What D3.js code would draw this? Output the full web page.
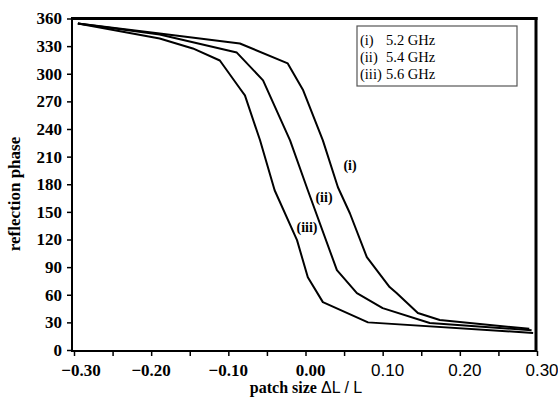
<!DOCTYPE html>
<html><head><meta charset="utf-8">
<script src="https://cdn.jsdelivr.net/npm/d3@7"></script>
<style>body{margin:0;background:#fff}svg{display:block}</style>
</head><body>
<svg id="c" width="558" height="397"></svg>
<script>
// data
const seriesI_x   = [-0.295,-0.189,-0.085,-0.023,-0.003,0.0225,0.042,0.0575,0.0795,0.109,0.118,0.1456,0.174,0.290];
const seriesI_y   = [354.6,343.7,332.9,311.2,282,227.7,176.7,148.5,100.8,68.3,61.8,40.1,32.5,23];
const seriesII_x  = [-0.295,-0.189,-0.089,-0.055,-0.020,0.003,0.0407,0.0666,0.100,0.161,0.293];
const seriesII_y  = [354.6,342.6,323,292.8,227.7,173.5,86.7,61.8,45.5,29.3,21.5];
const seriesIII_x = [-0.295,-0.189,-0.146,-0.111,-0.085,-0.0785,-0.059,-0.040,-0.011,0.003,0.0225,0.081,0.295];
const seriesIII_y = [354.6,338.3,327.5,314.4,284,276.5,228,173.5,119.3,79,52,30,18.5];
const legendNames = ["(i)","(ii)","(iii)"];
const legendFreqs = ["5.2 GHz","5.4 GHz","5.6 GHz"];
const curveLabels = ["(i)","(ii)","(iii)"];
const yTicks = [0,30,60,90,120,150,180,210,240,270,300,330,360];
const xTickLabels = [-0.30,-0.20,-0.10,0.00,0.10,0.20,0.30];
const xMinorTicks = [-0.30,-0.25,-0.20,-0.15,-0.10,-0.05,0,0.05,0.10,0.15,0.20,0.25,0.30];

const svg = d3.select("#c");
const x = d3.scaleLinear().domain([-0.3,0.3]).range([74,537]);
const y = d3.scaleLinear().domain([0,360]).range([350,18.5]);

// frame
svg.append("line").attr("x1",72).attr("x2",537.5).attr("y1",18.5).attr("y2",18.5).attr("stroke","#000").attr("stroke-width",3);
svg.append("line").attr("x1",536).attr("x2",536).attr("y1",17).attr("y2",351).attr("stroke","#000").attr("stroke-width",3);
svg.append("line").attr("x1",72).attr("x2",72).attr("y1",17).attr("y2",352).attr("stroke","#000").attr("stroke-width",2);
svg.append("line").attr("x1",71).attr("x2",537).attr("y1",351).attr("y2",351).attr("stroke","#000").attr("stroke-width",2);

// y axis ticks
const yAxis = d3.axisLeft(y).tickValues(yTicks).tickSize(5).tickPadding(5).tickFormat(d3.format("d"));
const gy = svg.append("g").attr("transform","translate(72,0)").call(yAxis);
gy.select(".domain").remove();
gy.selectAll("line").attr("stroke","#000").attr("stroke-width",1.5);
gy.selectAll("text").attr("font-family","Liberation Serif").attr("font-weight","bold").attr("font-size",17).attr("fill","#000");

// x axis ticks
const xAxis = d3.axisBottom(x).tickValues(xMinorTicks).tickSize(5).tickFormat("");
const gx = svg.append("g").attr("transform","translate(0,351)").call(xAxis);
gx.select(".domain").remove();
gx.selectAll("line").attr("stroke","#000").attr("stroke-width",1.5);
svg.append("g").selectAll("text").data(xTickLabels).join("text")
  .attr("x",d=>x(d)+(d>=0?5:(d<-0.25?7:0)))
  .attr("y",376)
  .attr("text-anchor","middle")
  .attr("font-family",d=>d>0?"Liberation Sans":"Liberation Serif")
  .attr("font-weight",d=>d>0?"normal":"bold")
  .attr("font-size",17)
  .attr("fill","#000")
  .text(d=>d3.format(".2f")(d));

// axis titles
const xt = svg.append("text").attr("x",306).attr("y",393).attr("text-anchor","middle").attr("font-size",16).attr("fill","#000");
xt.append("tspan").attr("font-family","Liberation Serif").attr("font-weight","bold").text("patch size ");
xt.append("tspan").attr("font-family","Liberation Sans").text("ΔL / L");
svg.append("text").attr("transform","translate(20,194) rotate(-90)").attr("text-anchor","middle")
  .attr("font-family","Liberation Serif").attr("font-weight","bold").attr("font-size",17).attr("fill","#000")
  .text("reflection phase");

// curves
const line = d3.line().x(d=>x(d[0])).y(d=>y(d[1]));
const series = [[seriesI_x,seriesI_y],[seriesII_x,seriesII_y],[seriesIII_x,seriesIII_y]];
series.forEach(([xs,ys])=>{
  svg.append("path").datum(xs.map((v,i)=>[v,ys[i]])).attr("d",line)
    .attr("fill","none").attr("stroke","#000").attr("stroke-width",2).attr("stroke-linejoin","round");
});

// curve labels
const labelPos = [[0.0577,195],[0.024,161],[0.002,128]];
svg.append("g").selectAll("text").data(curveLabels).join("text")
  .attr("x",(d,i)=>x(labelPos[i][0])).attr("y",(d,i)=>y(labelPos[i][1]))
  .attr("text-anchor","middle")
  .attr("font-family","Liberation Serif").attr("font-weight","bold").attr("font-size",14).attr("fill","#000")
  .text(d=>d);

// legend
svg.append("rect").attr("x",357).attr("y",26).attr("width",160).attr("height",60)
  .attr("fill","#fff").attr("stroke","#555").attr("stroke-width",1.2);
const lg = svg.append("g").selectAll("g").data(legendNames).join("g");
lg.append("text").attr("x",360).attr("y",(d,i)=>45+i*17)
  .attr("font-family","Liberation Serif").attr("font-size",14.5).attr("fill","#000").text(d=>d);
lg.append("text").attr("x",386).attr("y",(d,i)=>45+i*17)
  .attr("font-family","Liberation Serif").attr("font-size",14.5).attr("fill","#000").text((d,i)=>legendFreqs[i]);
</script>
</body></html>
